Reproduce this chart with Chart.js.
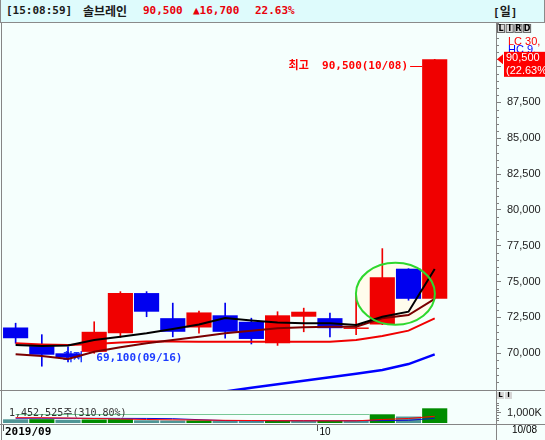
<!DOCTYPE html>
<html>
<head>
<meta charset="utf-8">
<script src="https://cdn.jsdelivr.net/npm/chart.js@4.4.0/dist/chart.umd.min.js"></script>
<style>
  body { margin: 0; width: 545px; height: 440px; overflow: hidden; position: relative; background: #f5fffd; }
  #head { position: absolute; left: 0; top: 0; width: 543px; height: 22px; background: #defbfc; border-bottom: 1px solid #8a8a8a; border-right: 1px solid #8a8a8a; border-left: 1px solid #8a8a8a; }
  .h { position: absolute; top: 3px; font: bold 11px "DejaVu Sans Mono", "Noto Sans CJK KR", monospace; line-height: 16px; color: #1a1a1a; }
  .kr { font-family: "Noto Sans CJK KR", sans-serif; font-size: 12px; }
  .red { color: #e8000a; }
  canvas { position: absolute; left: 0; }
  #price { top: 23px; }
  #volume { top: 390px; }
  .ln { position: absolute; background: #858585; }
</style>
</head>
<body>
<div id="head">
  <span class="h" style="left:5px">[15:08:59]</span>
  <span class="h kr" style="left:82px">솔브레인</span>
  <span class="h red" style="left:142px">90,500</span>
  <span class="h red" style="left:192px">▲16,700</span>
  <span class="h red" style="left:254px">22.63%</span>
  <span class="h" style="left:492px">[<span class="kr">일</span>]</span>
</div>
<canvas id="price" width="545" height="367"></canvas>
<canvas id="volume" width="545" height="50"></canvas>
<div class="ln" style="left:1px;top:23px;width:1px;height:417px"></div>
<div class="ln" style="left:496px;top:23px;width:1px;height:417px"></div>
<div class="ln" style="left:0;top:390px;width:545px;height:1px"></div>
<div class="ln" style="left:0;top:424px;width:545px;height:1px"></div>
<script>
const dates = ['2019/09/11', '2019/09/16', '2019/09/17', '2019/09/18', '2019/09/19', '2019/09/20', '2019/09/23', '2019/09/24', '2019/09/25',
  '2019/09/26', '2019/09/27', '2019/09/30', '2019/10/01', '2019/10/02', '2019/10/04', '2019/10/07', '2019/10/08'];
const opens  = [71800, 70500, 70000, 70100, 71400, 74200, 72450, 71800, 72650, 72200, 70700, 72550, 72450, 71700, 72000, 75900, 73800];
const highs  = [72100, 71300, 70450, 72200, 74300, 74300, 73500, 72950, 73500, 72450, 72900, 73150, 72800, 74050, 77300, 75900, 90500];
const lows   = [70700, 69100, 69400, 70000, 71100, 72550, 71150, 71400, 71050, 70650, 70550, 71500, 71150, 71300, 72000, 73700, 73800];
const closes = [71050, 69900, 69700, 71500, 74200, 72900, 71500, 72850, 71500, 71000, 72650, 72900, 71750, 71800, 75300, 73800, 90500];

const ma5  = [70580, 70510, 70540, 70930, 71160, 71400, 71690, 72010, 72460, 72290, 72150, 72090, 72090, 71970, 72550, 72900, 75880];
const ma10 = [69930, 69810, 69600, 70110, 70420, 70700, 70930, 71160, 71400, 71580, 71740, 71810, 71850, 71860, 72440, 72670, 73800];
const ma20 = [70700, 70620, 70580, 70650, 70750, 70820, 70830, 70810, 70810, 70800, 70810, 70810, 70810, 70930, 71210, 71580, 72440];
const ma60 = [null, null, null, null, null, null, null, null, 67340, 67590, 67840, 68080, 68330, 68580, 68830, 69250, 69930];

const volumes = [365000, 380000, 316000, 345000, 380000, 270000, 250000, 255000, 220000, 215000, 225000, 200000, 205000, 195000, 860000, 640000, 1452525];
const volMa5  = [520000, 520000, 495000, 445000, 395000, 345000, 315000, 295000, 265000, 245000, 225000, 215000, 215000, 215000, 345000, 445000, 660000];
const volMa20 = [470000, 468000, 465000, 462000, 458000, 450000, 430000, 330000, 240000, 230000, 230000, 230000, 230000, 230000, 235000, 265000, 465000];

const priceTicks = [70000, 72500, 75000, 77500, 80000, 82500, 85000, 87500, 90000];
const volumeTicks = [1000000];

const UP = '#f00000', DOWN = '#0000f0';
const xMin = -0.52, xMax = 18.34;
const halfSlot = 12.6;
const fmt = v => v.toLocaleString('en-US');
const pts = arr => arr.map((v, i) => ({x: i, y: v}));
const candleColors = closes.map((c, i) => c >= opens[i] ? UP : DOWN);
const volColors = volumes.map((v, i) => i > 0 && v > volumes[i - 1] ? '#008c00' : '#4f9696');

const fitAxis = scale => { scale.width = 49; scale.paddingTop = 0; scale.paddingBottom = 0; };

const priceDecor = {
  id: 'priceDecor',
  beforeDatasetsDraw(chart) {
    const {ctx, scales: {x, y}} = chart;
    ctx.save();
    ctx.beginPath();
    ctx.ellipse(x.getPixelForValue(14.5), y.getPixelForValue(74150), 39.5, 31, 0, 0, 2 * Math.PI);
    ctx.fillStyle = '#fffcec';
    ctx.fill();
    // lowest price label, sits under the candles
    const lo = Math.min(...lows), li = lows.indexOf(lo);
    ctx.fillStyle = '#1d3cff';
    ctx.font = 'bold 11px "DejaVu Sans Mono", "Noto Sans CJK KR"';
    ctx.textBaseline = 'middle';
    ctx.fillText('최저  ' + fmt(lo) + '(' + dates[li].slice(5) + ')', x.getPixelForValue(li) + 21, y.getPixelForValue(lo) - 8);
    ctx.restore();
  },
  afterDatasetsDraw(chart) {
    const {ctx, scales: {x, y}} = chart;
    ctx.save();
    ctx.beginPath();
    ctx.ellipse(x.getPixelForValue(14.5), y.getPixelForValue(74150), 39.5, 31, 0, 0, 2 * Math.PI);
    ctx.strokeStyle = '#2ed82e';
    ctx.lineWidth = 2;
    ctx.stroke();
    // highest price label
    const hi = Math.max(...highs), hiI = highs.indexOf(hi);
    const edge = x.getPixelForValue(hiI) - halfSlot;
    const hy = Math.round(y.getPixelForValue(hi) + 7);
    ctx.strokeStyle = '#ff0000';
    ctx.lineWidth = 1;
    ctx.beginPath();
    ctx.moveTo(edge - 12, hy + 0.5);
    ctx.lineTo(edge, hy + 0.5);
    ctx.stroke();
    ctx.fillStyle = '#ff0000';
    ctx.font = 'bold 11px "DejaVu Sans Mono", "Noto Sans CJK KR"';
    ctx.textBaseline = 'middle';
    ctx.textAlign = 'right';
    ctx.fillText('최고  ' + fmt(hi) + '(' + dates[hiI].slice(5) + ')', edge - 14, hy);
    ctx.restore();
  },
  afterDraw(chart) {
    const {ctx, chartArea: a, scales: {y}} = chart;
    ctx.save();
    ctx.strokeStyle = '#808080';
    ctx.lineWidth = 1;
    for (let v = 67500; v <= 93000; v += 500) {
      if (v % 2500 === 0) continue;
      const py = Math.round(y.getPixelForValue(v)) + 0.5;
      ctx.beginPath();
      ctx.moveTo(a.right, py);
      ctx.lineTo(a.right + 3, py);
      ctx.stroke();
    }
    ['L', 'I', 'R', 'D'].forEach((c, i) => {
      const bx = a.right + 1 + i * 8.7;
      ctx.fillStyle = '#d6d6d6';
      ctx.fillRect(bx, 1, 8, 9);
      ctx.strokeStyle = '#6a6a6a';
      ctx.strokeRect(bx + 0.5, 1.5, 7, 8);
      ctx.fillStyle = '#000';
      ctx.font = 'bold 8px "DejaVu Sans"';
      ctx.textAlign = 'center';
      ctx.textBaseline = 'middle';
      ctx.fillText(c, bx + 4, 6);
    });
    ctx.textAlign = 'left';
    ctx.font = '11px "Liberation Sans"';
    ctx.fillStyle = '#ff0000';
    ctx.fillText('LC 30,', a.right + 12, 18.5);
    ctx.fillStyle = '#0000ff';
    ctx.fillText('HC 9,', a.right + 12, 27);
    // current price tag
    const last = closes.length - 1;
    const ty = y.getPixelForValue(closes[last]);
    const pct = (closes[last] - closes[last - 1]) / closes[last - 1] * 100;
    ctx.fillStyle = '#ff0000';
    ctx.beginPath();
    ctx.moveTo(a.right + 1, ty);
    ctx.lineTo(a.right + 7, ty - 5);
    ctx.lineTo(a.right + 7, ty + 5);
    ctx.fill();
    ctx.fillRect(a.right + 8, ty - 7.5, 50, 25);
    ctx.fillStyle = '#fff';
    ctx.fillText(fmt(closes[last]), a.right + 10, ty - 1);
    ctx.fillText('(' + pct.toFixed(2) + '%', a.right + 10, ty + 12);
    ctx.restore();
  }
};

const volumeDecor = {
  id: 'volumeDecor',
  afterDraw(chart) {
    const {ctx, chartArea: a, scales: {x, y}} = chart;
    ctx.save();
    const gy = Math.round(y.getPixelForValue(volumes[14])) + 0.5;
    ctx.strokeStyle = '#78c896';
    ctx.lineWidth = 1;
    ctx.beginPath();
    ctx.moveTo(x.getPixelForValue(0), gy);
    ctx.lineTo(x.getPixelForValue(14) - halfSlot, gy);
    ctx.stroke();
    ctx.font = '10px "DejaVu Sans Mono", "Noto Sans CJK KR"';
    ctx.fillStyle = '#333';
    ctx.textBaseline = 'middle';
    ctx.fillText('1,452,525주(310.80%)', 9, 23);
    ctx.strokeStyle = '#808080';
    for (let v = 250000; v <= 2000000; v += 250000) {
      if (v === 1000000) continue;
      const py = Math.round(y.getPixelForValue(v)) + 0.5;
      if (py < 9) continue;
      ctx.beginPath();
      ctx.moveTo(a.right, py);
      ctx.lineTo(a.right + 3, py);
      ctx.stroke();
    }
    ['L', 'I'].forEach((c, i) => {
      const bx = a.right + 1 + i * 8;
      ctx.fillStyle = '#d6d6d6';
      ctx.fillRect(bx, 2, 7, 7);
      ctx.fillStyle = '#000';
      ctx.font = 'bold 7px "DejaVu Sans"';
      ctx.textAlign = 'center';
      ctx.fillText(c, bx + 3.5, 5.5);
    });
    // date strip
    const strip = 42;
    ctx.textAlign = 'left';
    ctx.fillStyle = '#000';
    ctx.font = 'bold 11px "DejaVu Sans Mono"';
    ctx.fillText(dates[0].slice(0, 7), 5, strip);
    ctx.strokeStyle = '#555';
    const tickAt = px => {
      ctx.beginPath();
      ctx.moveTo(px, 35);
      ctx.lineTo(px, 41);
      ctx.stroke();
    };
    tickAt(Math.round(x.getPixelForValue(0) - halfSlot) + 0.5);
    ctx.font = '10px "Liberation Sans"';
    dates.forEach((d, i) => {
      if (i > 0 && d.slice(5, 7) !== dates[i - 1].slice(5, 7)) {
        const px = Math.round(x.getPixelForValue(i) - halfSlot) + 0.5;
        tickAt(px);
        ctx.fillText(d.slice(5, 7), px + 2, strip);
      }
    });
    ctx.fillText(dates[dates.length - 1].slice(5), a.right + 16, strip - 2);
    ctx.restore();
  }
};

new Chart(document.getElementById('price'), {
  type: 'bar',
  data: {
    datasets: [
      {type: 'line', data: pts(ma5), borderColor: '#000', borderWidth: 2, pointRadius: 0},
      {type: 'line', data: pts(ma10), borderColor: '#7a0000', borderWidth: 2, pointRadius: 0},
      {type: 'line', data: pts(ma20), borderColor: '#f00000', borderWidth: 2, pointRadius: 0},
      {type: 'line', data: pts(ma60), borderColor: '#0000ff', borderWidth: 2.5, pointRadius: 0},
      {
        data: dates.map((d, i) => ({x: i, y: [opens[i], closes[i]]})),
        backgroundColor: candleColors,
        barPercentage: 0.96,
        categoryPercentage: 1,
        grouped: false
      },
      {
        data: dates.map((d, i) => ({x: i, y: [lows[i], highs[i]]})),
        backgroundColor: candleColors,
        barThickness: 1,
        grouped: false
      }
    ]
  },
  options: {
    responsive: false,
    animation: false,
    devicePixelRatio: 1,
    layout: {padding: {left: 2, right: 0, top: 0, bottom: 0}},
    plugins: {legend: {display: false}, tooltip: {enabled: false}},
    scales: {
      x: {type: 'linear', min: xMin, max: xMax, offset: false, display: false},
      y: {
        position: 'right',
        min: 67441,
        max: 93033,
        afterBuildTicks: axis => { axis.ticks = priceTicks.map(value => ({value})); },
        afterFit: fitAxis,
        border: {display: false},
        grid: {drawOnChartArea: false, drawTicks: true, tickLength: 5, color: '#808080'},
        ticks: {
          padding: 6,
          color: '#222',
          font: {family: '"Liberation Sans"', size: 11},
          callback: v => fmt(v)
        }
      }
    }
  },
  plugins: [priceDecor]
});

new Chart(document.getElementById('volume'), {
  type: 'bar',
  data: {
    datasets: [
      {type: 'line', data: pts(volMa5), borderColor: '#ff0000', borderWidth: 1, pointRadius: 0},
      {type: 'line', data: pts(volMa20), borderColor: '#1010d0', borderWidth: 1, pointRadius: 0},
      {
        data: volumes.map((v, i) => ({x: i, y: v})),
        backgroundColor: volColors,
        barPercentage: 0.96,
        categoryPercentage: 1
      }
    ]
  },
  options: {
    responsive: false,
    animation: false,
    devicePixelRatio: 1,
    layout: {padding: {left: 2, right: 0, top: 1, bottom: 17}},
    plugins: {legend: {display: false}, tooltip: {enabled: false}},
    scales: {
      x: {type: 'linear', min: xMin, max: xMax, offset: false, display: false},
      y: {
        position: 'right',
        min: 0,
        max: 3162000,
        afterBuildTicks: axis => { axis.ticks = volumeTicks.map(value => ({value})); },
        afterFit: fitAxis,
        border: {display: false},
        grid: {drawOnChartArea: false, drawTicks: true, tickLength: 5, color: '#808080'},
        ticks: {
          padding: 6,
          color: '#222',
          font: {family: '"Liberation Sans"', size: 11},
          callback: v => fmt(v / 1000) + 'K'
        }
      }
    }
  },
  plugins: [volumeDecor]
});
</script>
</body>
</html>
